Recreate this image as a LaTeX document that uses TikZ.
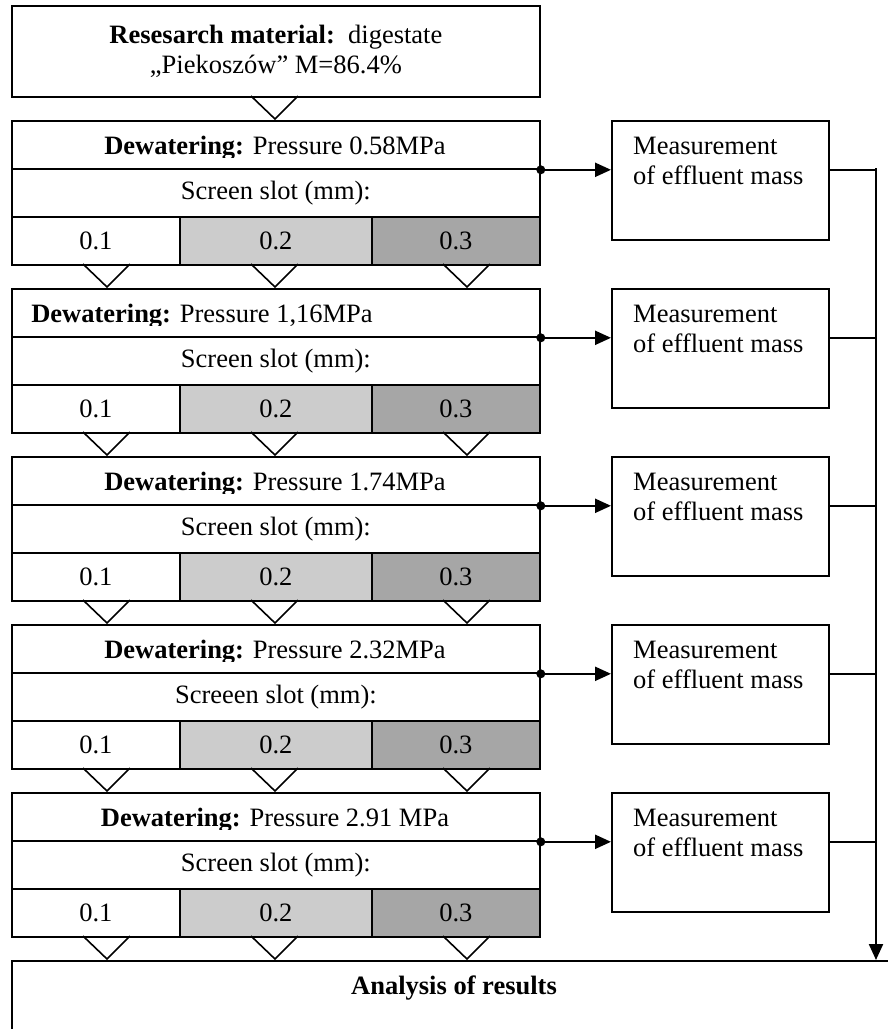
\documentclass[tikz,border=0pt]{standalone}
\usepackage{fontspec}
\setmainfont{Liberation Serif}
\usetikzlibrary{arrows.meta}
\definecolor{slotmid}{HTML}{CCCCCC}
\definecolor{slotdark}{HTML}{A6A6A6}

\begin{document}
\begin{tikzpicture}[
  x=1pt, y=-1pt,
  >={Triangle[length=16pt, width=14pt]},
  font=\fontsize{26.5}{30}\selectfont,
  box/.style={draw, line width=1.8pt, inner sep=0pt, anchor=north west},
  stagerow/.style={box, minimum width=528pt, minimum height=48pt},
  slotcell/.style={box, minimum height=48pt},
  veeline/.style={line width=1.6pt},
  flowline/.style={->, line width=2.2pt},
]
\useasboundingbox (0,0) rectangle (888,1029);

% Research material
\node[box, minimum width=528pt, minimum height=91pt, align=center] (mat) at (11,5)
  {\textbf{Resesarch material:}\ \ digestate\\„Piekoszów” M=86.4\%};
\draw[veeline] (251,96) -- (275,119) -- (298,96);

% Collecting rail on the right
\coordinate (rail) at (876,168);

% ========================================
% Dewatering stages
% ========================================
\foreach \k/\pr/\scr/\cx in {0/0.58MPa/Screen/275, 1/{1,16MPa}/Screen/202,
    2/1.74MPa/Screen/275, 3/2.32MPa/Screeen/275, 4/2.91 MPa/Screen/275} {
  \pgfmathsetmacro\y{120+168*\k}

  % Pressure row, text cut at the bottom
  \node[stagerow] (dw-\k) at (11,\y) {};
  \begin{scope}
    \clip (11,\y) rectangle (539,{\y+37});
    \node[anchor=base] at (\cx,{\y+34}) {\textbf{Dewatering:} Pressure \pr};
  \end{scope}

  % Screen slot row
  \node[stagerow] (ss-\k) at (11,{\y+48}) {\scr\ slot (mm):};

  % Slot values
  \node[slotcell, minimum width=168pt] (v1-\k) at (11,{\y+96}) {0.1};
  \node[slotcell, minimum width=192pt, fill=slotmid] (v2-\k) at (179,{\y+96}) {0.2};
  \node[slotcell, minimum width=168pt, fill=slotdark] (v3-\k) at (371,{\y+96}) {0.3};

  \foreach \tx in {107,275,467}
    \draw[veeline] ({\tx-24},{\y+144}) -- (\tx,{\y+167}) -- ({\tx+23},{\y+144});

  % Measurement
  \node[box, minimum width=217pt, minimum height=119pt] (ms-\k) at (611,\y) {};
  \node[anchor=north west, inner sep=0pt, align=left] (mt-\k) at (633,{\y+17})
    {Measurement\\of effluent mass};

  \fill (dw-\k.south east) circle (4.5pt);
  \draw[flowline] (dw-\k.south east) -- (dw-\k.south east -| ms-\k.west);
  \draw[line width=1.8pt] (dw-\k.south east -| ms-\k.east) -- (dw-\k.south east -| rail);
}

% ========================================
% Analysis
% ========================================
\node[box, minimum width=886pt, minimum height=100pt] (res) at (11,960) {};
\node[font=\fontsize{26.5}{30}\selectfont\bfseries] (res-txt) at (454,988) {Analysis of results};
\draw[flowline] (rail) -- (rail |- res.north);

\end{tikzpicture}
\end{document}
